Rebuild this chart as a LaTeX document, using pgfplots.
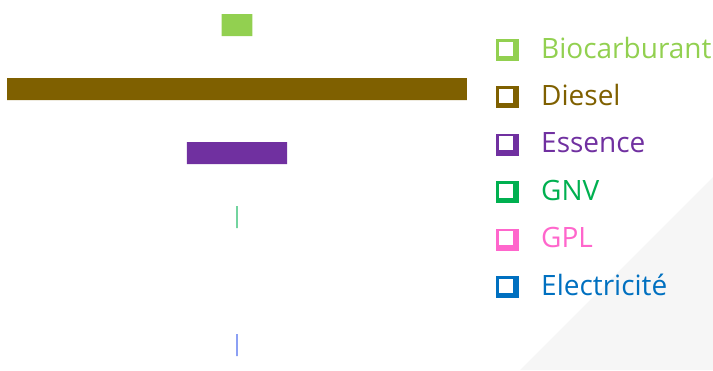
\documentclass[border=0pt]{standalone}
\usepackage{fontspec}
\setmainfont{Open Sans}
\usepackage{pgfplots}
\pgfplotsset{compat=1.18}
\definecolor{bio}{HTML}{92D050}
\definecolor{diesel}{HTML}{7F6000}
\definecolor{essence}{HTML}{7030A0}
\definecolor{gnv}{HTML}{00B050}
\definecolor{gpl}{HTML}{FF66CC}
\definecolor{elec}{HTML}{0070C0}
\pgfplotsset{leg/.style={legend image code/.code={%
  \fill[#1] (0pt,-10pt) rectangle (23pt,12pt);
  \fill[white] (2.5pt,-4.5pt) rectangle (17pt,9.5pt);}}}
\begin{document}
\begin{tikzpicture}[x=1pt,y=1pt]
\useasboundingbox (0,0) rectangle (713,370);
\fill[black!3.5] (520,0) -- (713,0) -- (713,193) -- cycle;
\begin{axis}[at={(7pt,0pt)}, anchor=south west, scale only axis,
  width=460pt, height=370pt, hide axis, xbar,
  xmin=-230.3, xmax=230.3, ymin=-0.3906, ymax=5.3906, y dir=reverse, clip=false,
  every axis plot/.append style={bar shift=0pt, bar width=22pt, draw=none},
  legend style={at={(axis description cs:1.0565,0.903)}, anchor=north west,
    draw=none, fill=none, font=\fontsize{28}{32}\selectfont, row sep=21.4pt,
    column sep=22pt,
    legend cell align=left, nodes={inner sep=0pt, text height=20pt, text depth=6pt}}]
\addplot[fill=bio, leg=bio] coordinates {(-15.3,0) (15.3,0)};
\addlegendentry{\textcolor{bio}{Biocarburant}}
\addplot[fill=diesel, leg=diesel] coordinates {(-230.3,1) (230.3,1)};
\addlegendentry{\textcolor{diesel}{Diesel}}
\addplot[fill=essence, leg=essence] coordinates {(-50.3,2) (50.3,2)};
\addlegendentry{\textcolor{essence}{Essence}}
\addplot[fill=gnv!55, leg=gnv] coordinates {(-1,3) (1,3)};
\addlegendentry{\textcolor{gnv}{GNV}}
\addplot[fill=none, leg=gpl] coordinates {(0,4)};
\addlegendentry{\textcolor{gpl}{GPL}}
\addplot[fill=elec!40!blue!45, leg=elec] coordinates {(-1,5) (1,5)};
\addlegendentry{\textcolor{elec}{Electricité}}
\end{axis}
\end{tikzpicture}
\end{document}
